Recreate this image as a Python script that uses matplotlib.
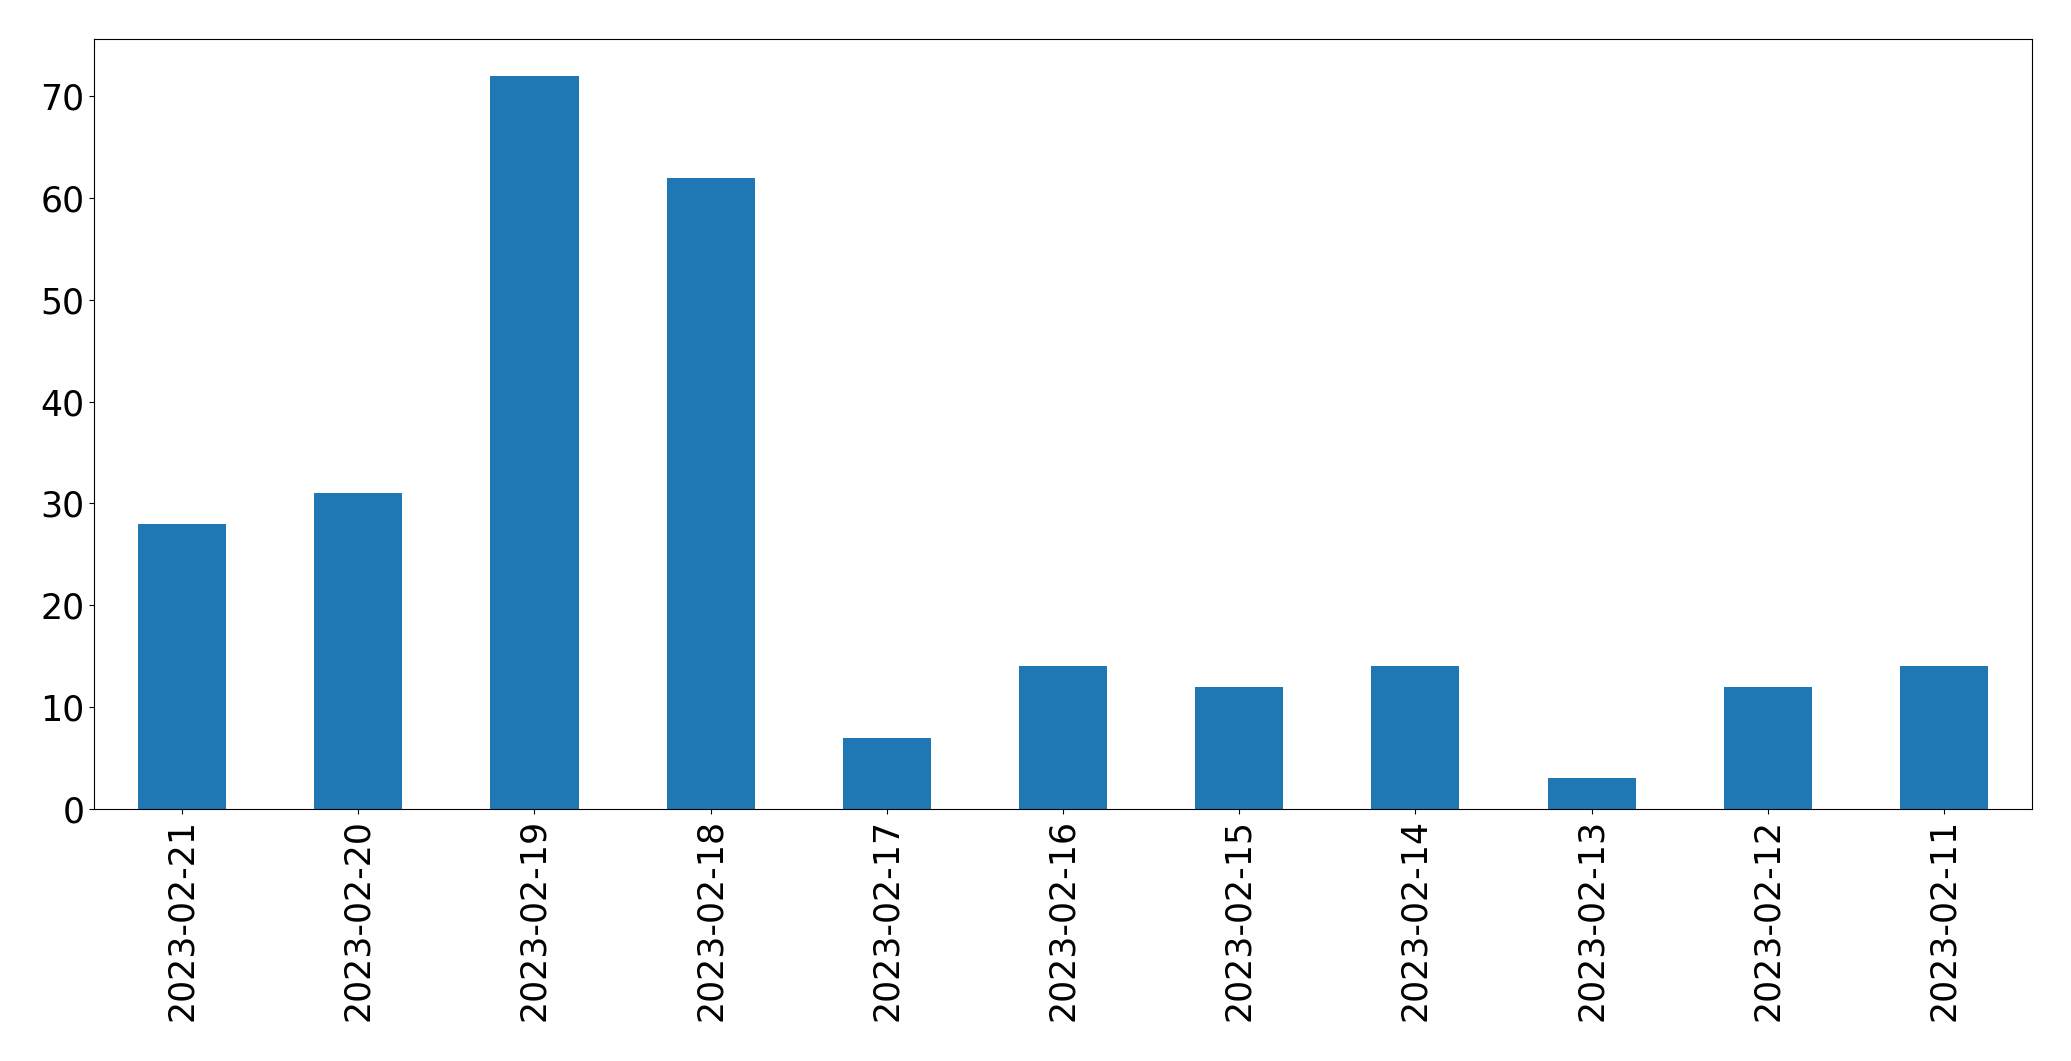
import matplotlib
matplotlib.use("Agg")
import matplotlib.pyplot as plt
import numpy as np

dates = ["2023-02-21", "2023-02-20", "2023-02-19", "2023-02-18", "2023-02-17",
         "2023-02-16", "2023-02-15", "2023-02-14", "2023-02-13", "2023-02-12",
         "2023-02-11"]
counts = [28, 31, 72, 62, 7, 14, 12, 14, 3, 12, 14]

fig = plt.figure(figsize=(20.71, 10.61), dpi=100)
ax = fig.add_axes([94 / 2071, 1 - 809 / 1061, (2032 - 94) / 2071, (809 - 39) / 1061])

x = np.arange(len(dates))
ax.bar(x, counts, width=0.5, color="#1f77b4")
ax.set_xlim(-0.5, len(dates) - 0.5)
ax.set_xticks(x)
ax.set_xticklabels(dates, rotation=90)
ax.tick_params(labelsize=25)

fig.savefig("out.png", dpi=100)
